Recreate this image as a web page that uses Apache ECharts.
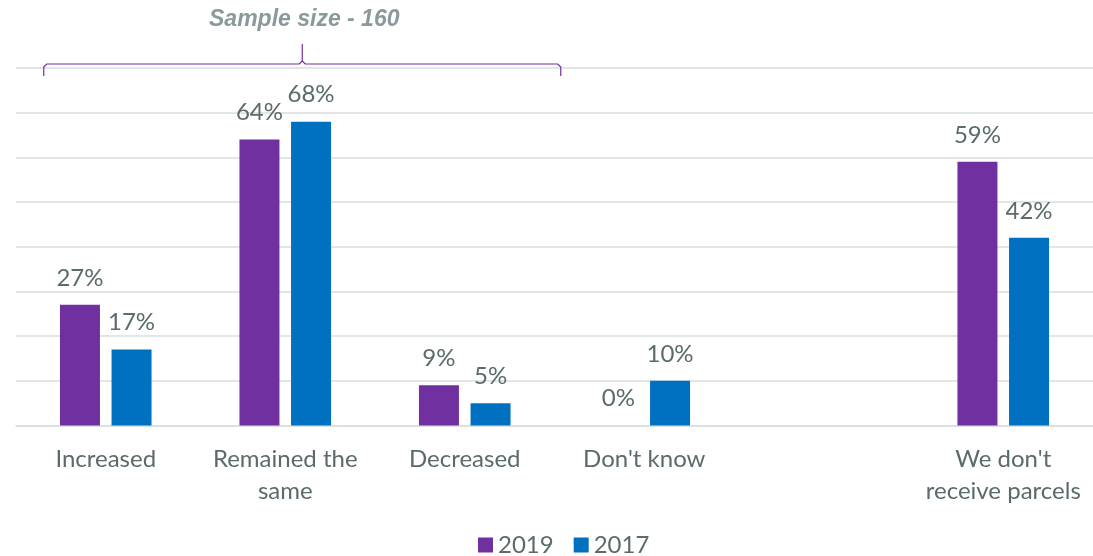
<!DOCTYPE html>
<html>
<head>
<meta charset="utf-8">
<script src="https://cdn.jsdelivr.net/npm/echarts@6/dist/echarts.min.js"></script>
<style>
  html, body { margin: 0; padding: 0; background: #fff; }
  #chart { width: 1093px; height: 556px; }
</style>
</head>
<body>
<div id="chart"></div>
<script>
// Survey answers (one blank slot separates the last group)
const categories = ['Increased', 'Remained the\nsame', 'Decreased', "Don't know", '', "We don't\nreceive parcels"];
const values2019 = [27, 64, 9, 0, null, 59];
const values2017 = [17, 68, 5, 10, null, 42];
const yTicks = { min: 0, max: 80, interval: 10 };
const sampleNote = 'Sample size - 160';

const textColor = '#5B6B6B';
const gridColor = '#D9DEDE';
const mainFont = 'Lato';

const chart = echarts.init(document.getElementById('chart'), null, { renderer: 'canvas' });

const labelStyle = {
  show: true,
  position: 'top',
  distance: 15,
  color: textColor,
  fontFamily: mainFont,
  fontSize: 24,
  formatter: p => p.value + '%'
};

chart.setOption({
  animation: false,
  backgroundColor: '#fff',
  grid: { left: 16, width: 1080, top: 68, height: 357.5, containLabel: false },
  legend: {
    data: ['2019', '2017'],
    top: 528,
    left: 473,
    itemWidth: 15,
    itemHeight: 15,
    itemGap: 20,
    icon: 'rect',
    textStyle: { color: textColor, fontFamily: mainFont, fontSize: 24, padding: [0, 0, 0, 0] }
  },
  xAxis: {
    type: 'category',
    data: categories,
    axisLine: { show: true, lineStyle: { color: gridColor, width: 1.5 } },
    axisTick: { show: false },
    axisLabel: {
      interval: 0,
      color: textColor,
      fontFamily: mainFont,
      fontSize: 24,
      lineHeight: 32,
      margin: 18
    }
  },
  yAxis: {
    type: 'value',
    min: yTicks.min,
    max: yTicks.max,
    interval: yTicks.interval,
    axisLine: { show: false },
    axisTick: { show: false },
    axisLabel: { show: false },
    splitLine: { lineStyle: { color: gridColor, width: 1.5 } }
  },
  series: [
    {
      name: '2019',
      type: 'bar',
      data: values2019,
      barWidth: 40,
      barGap: '29%',
      itemStyle: { color: '#7030A0' },
      label: labelStyle
    },
    {
      name: '2017',
      type: 'bar',
      data: values2017,
      barWidth: 40,
      itemStyle: { color: '#0070C0' },
      label: labelStyle
    }
  ]
});

// Curly brace spanning the first three answer groups, with the sample note above it
const x0 = chart.convertToPixel({ xAxisIndex: 0 }, 0) - 62;
const x1 = chart.convertToPixel({ xAxisIndex: 0 }, 2) + 96;
const xm = (x0 + x1) / 2;
const yTop = chart.convertToPixel({ yAxisIndex: 0 }, yTicks.max);
const yl = yTop - 4;   // horizontal run of the brace
const yEnd = yl + 12;  // tips of the brace
const yPeak = yl - 20; // centre point
const r = 3;

const braceStyle = { fill: null, stroke: '#7030A0', lineWidth: 1.2 };

chart.setOption({
  graphic: [
    {
      type: 'polyline',
      shape: { points: [[x0, yEnd], [x0, yl + r], [x0 + r, yl], [xm - r, yl], [xm, yl - r], [xm, yPeak]] },
      style: braceStyle,
      z: 10
    },
    {
      type: 'polyline',
      shape: { points: [[xm, yl - r], [xm + r, yl], [x1 - r, yl], [x1, yl + r], [x1, yEnd]] },
      style: braceStyle,
      z: 10
    },
    {
      type: 'text',
      x: xm + 2,
      y: 20,
      style: {
        text: sampleNote,
        fill: '#8A9A9A',
        font: 'italic bold 23px "Liberation Sans", Arial, sans-serif',
        align: 'center',
        verticalAlign: 'middle'
      },
      z: 10
    }
  ]
});
</script>
</body>
</html>
